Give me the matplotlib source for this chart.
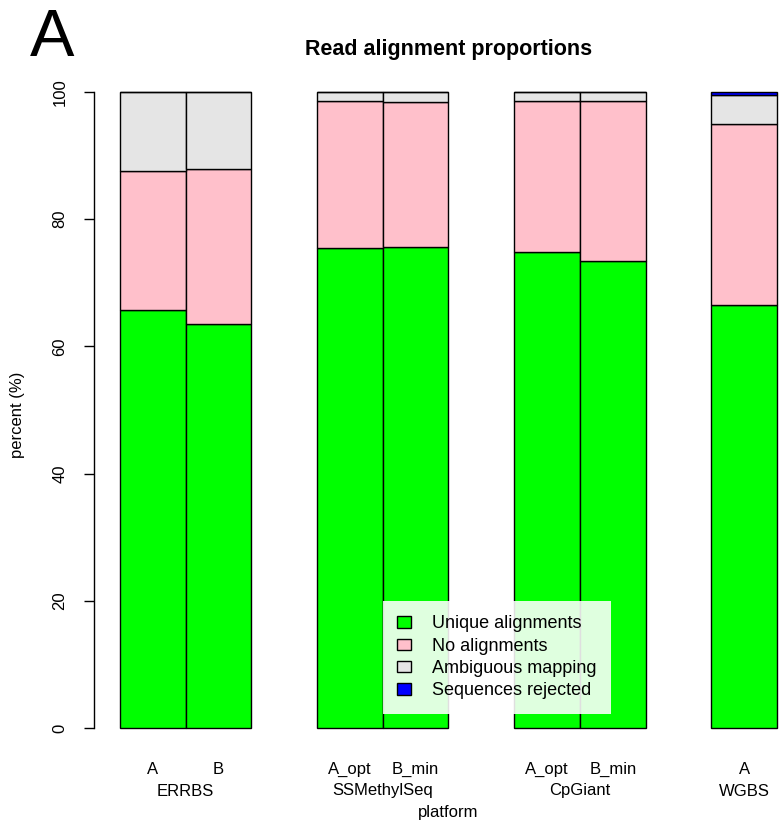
import matplotlib
matplotlib.use("Agg")
import matplotlib.pyplot as plt
from matplotlib.patches import Patch
from matplotlib.transforms import blended_transform_factory
import numpy as np

plt.rcParams['font.family'] = ['Liberation Sans', 'DejaVu Sans']

# Samples and their platforms
samples = ["A", "B", "A_opt", "B_min", "A_opt", "B_min", "A"]
platforms = ["ERRBS", "SSMethylSeq", "CpGiant", "WGBS"]
platform_sizes = [2, 2, 2, 1]

# Percent of reads in each alignment category
unique = [65.7, 63.5, 75.5, 75.6, 74.8, 73.4, 66.5]
no_align = [21.9, 24.4, 23.1, 22.8, 23.8, 25.2, 28.5]
ambiguous = [12.4, 12.1, 1.4, 1.6, 1.4, 1.4, 4.5]
rejected = [0.0, 0.0, 0.0, 0.0, 0.0, 0.0, 0.5]

categories = ["Unique alignments", "No alignments", "Ambiguous mapping", "Sequences rejected"]
colors = ["#00FF00", "#FFC0CB", "#E5E5E5", "#0000FF"]

W, H = 781, 825
fig = plt.figure(figsize=(W / 100, H / 100), dpi=100)

# plot region in pixels (left, right, top, bottom)
left_px, right_px = 93.7, 803.3
top_px, bottom_px = 66.6, 753.4
ax = fig.add_axes([left_px / W, 1 - bottom_px / H,
                   (right_px - left_px) / W, (bottom_px - top_px) / H])

# bar left edges: one empty bar-width between platforms
lefts = []
pos = 0
for n in platform_sizes:
    for i in range(n):
        lefts.append(pos)
        pos += 1
    pos += 1
lefts = np.array(lefts, dtype=float)
centers = lefts + 0.5

series = [unique, no_align, ambiguous, rejected]
bottom = np.zeros(len(samples))
for vals, col in zip(series, colors):
    v = np.array(vals)
    ax.bar(lefts, v, width=1.0, bottom=bottom, align="edge", color=col,
           edgecolor="black", linewidth=1.0, zorder=2)
    bottom += v

ax.set_xlim(-0.4, 10.4)
ax.set_ylim(-4, 104)

for s in ["top", "right", "bottom"]:
    ax.spines[s].set_visible(False)
ax.spines["left"].set_bounds(0, 100)
ax.spines["left"].set_linewidth(1.0)
ax.set_xticks([])
ax.set_yticks([0, 20, 40, 60, 80, 100])
ax.tick_params(axis="y", length=7, width=1.0, pad=12, labelsize=12)
for lbl in ax.get_yticklabels():
    lbl.set_rotation(90)
    lbl.set_va("center")

# sample and platform labels under the bars
trans = blended_transform_factory(ax.transData, fig.transFigure)
for c, s in zip(centers, samples):
    ax.text(c, 1 - 769 / H, s, transform=trans, ha="center", va="center", fontsize=12)
start = 0
for p, n in zip(platforms, platform_sizes):
    c = centers[start:start + n].mean()
    ax.text(c, 1 - 791 / H, p, transform=trans, ha="center", va="center", fontsize=12)
    start += n

fig.text((left_px + right_px) / 2 / W, 1 - 813 / H, "platform",
         ha="center", va="center", fontsize=12)
fig.text(18 / W, 1 - 415 / H, "percent (%)", rotation=90,
         ha="center", va="center", fontsize=12)
fig.text((left_px + right_px) / 2 / W, 1 - 49 / H, "Read alignment proportions",
         ha="center", va="center", fontsize=15.5, fontweight="bold")
fig.text(52 / W, 1 - 39 / H, "A", ha="center", va="center", fontsize=48)

handles = [Patch(facecolor=c, edgecolor="black", linewidth=1.0) for c in colors]
leg = ax.legend(handles, categories, loc="upper left",
                bbox_to_anchor=(4.0, 20.0), bbox_transform=ax.transData,
                fontsize=13, frameon=True, fancybox=False,
                handlelength=0.75, handleheight=0.6, handletextpad=1.2,
                borderpad=0.8, borderaxespad=0.0, labelspacing=0.3)
frame = leg.get_frame()
frame.set_facecolor("white")
frame.set_alpha(0.88)
frame.set_edgecolor("none")
leg.set_zorder(5)

fig.savefig("out.png", dpi=100)
